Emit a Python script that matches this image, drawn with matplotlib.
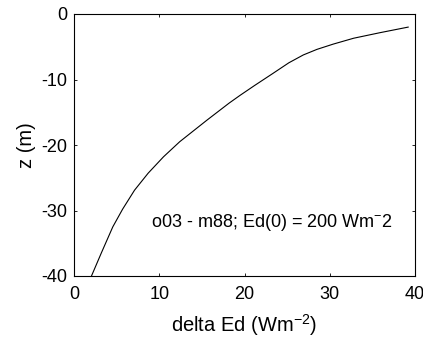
import numpy as np
import matplotlib
matplotlib.use("Agg")
import matplotlib.pyplot as plt

# difference in downwelling irradiance vs depth
deltaEd = [39.2, 35.9, 32.8, 30.4, 28.5, 26.9, 25.2, 23.3, 21.2, 19.5,
           18.2, 15.6, 12.4, 10.5, 8.7, 7.1, 5.7, 4.55, 3.2, 2.05]
depth = [-2.0, -2.85, -3.7, -4.6, -5.4, -6.25, -7.45, -9.1, -10.9, -12.4,
         -13.6, -16.2, -19.5, -21.8, -24.3, -26.9, -29.8, -32.5, -36.5, -40.0]

xTicks = [0, 10, 20, 30, 40]
yTicks = [0, -10, -20, -30, -40]

plt.rcParams['font.family'] = ['Liberation Sans', 'DejaVu Sans']
plt.rcParams['mathtext.default'] = 'regular'
plt.rcParams['axes.unicode_minus'] = False

fig = plt.figure(figsize=(4.23, 3.39), dpi=100)
ax = fig.add_axes([74 / 423, 1 - 276 / 339, 341 / 423, 262 / 339])

ax.plot(deltaEd, depth, color='black', linewidth=0.8)

ax.set_xlim(0, 40)
ax.set_ylim(-40, 0)
ax.set_xticks(xTicks)
ax.set_yticks(yTicks)
ax.tick_params(direction='in', top=True, right=True, labelsize=13,
               length=2.5, width=0.6)
ax.tick_params(axis='x', pad=7)
ax.tick_params(axis='y', pad=5)
for sp in ax.spines.values():
    sp.set_linewidth(0.8)

ax.set_xlabel('delta Ed (Wm$^{-2}$)', fontsize=14.5, labelpad=7)
ax.set_ylabel('z (m)', fontsize=14.5, labelpad=4)

ax.text(9.0, -31.8, 'o03 - m88; Ed(0) = 200 Wm$^{-}$2', fontsize=13,
        ha='left', va='center')

fig.savefig('out.png', dpi=100)
